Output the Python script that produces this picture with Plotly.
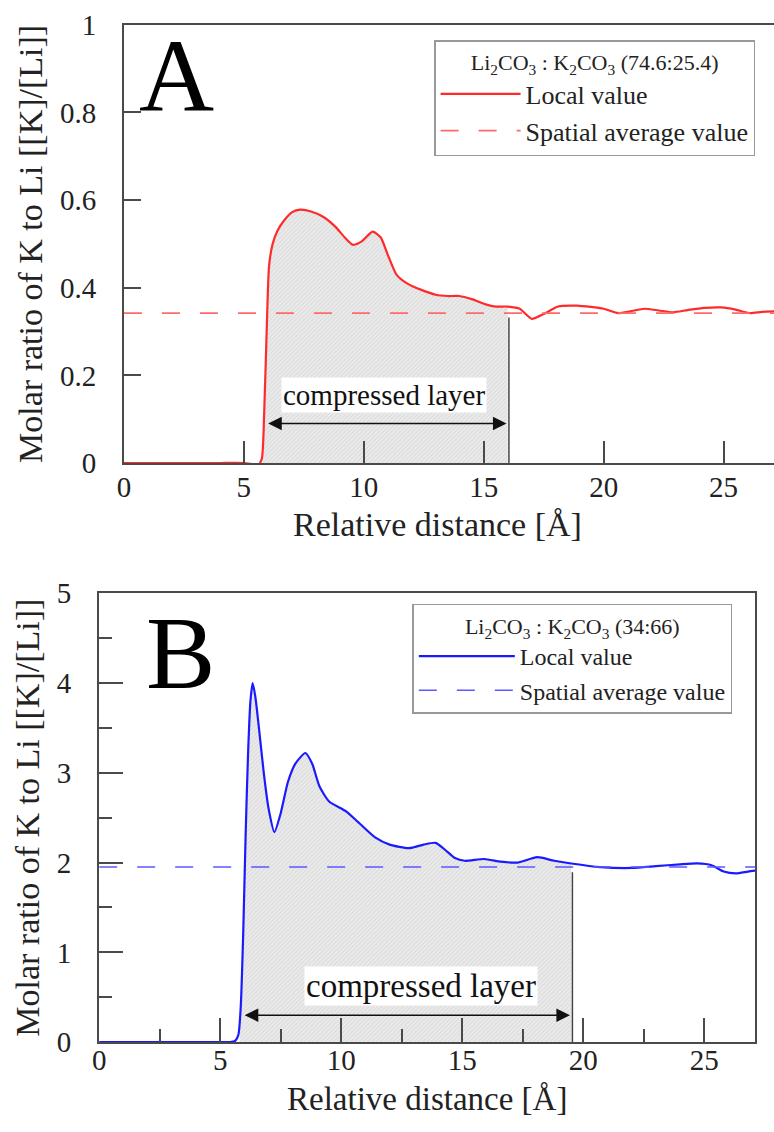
import plotly.graph_objects as go

# ---------------- data ----------------
# Panel A : Li2CO3 : K2CO3 (74.6:25.4)
xa = [0, 1, 2, 3, 4, 5, 5.4, 5.6, 5.75, 5.85, 5.95, 6.05, 6.2, 6.4, 6.7, 7.0, 7.36, 7.8, 8.3, 8.8,
      9.2, 9.55, 9.9, 10.37, 10.7, 11.0, 11.36, 11.8, 12.4, 13.0, 13.5, 13.97, 14.5, 15.08, 15.5,
      16.0, 16.5, 17.0, 17.5, 18.1, 18.9, 20.0, 20.6, 21.1, 21.7, 22.3, 22.9, 23.5, 24.2, 24.9,
      25.5, 26.1, 26.6, 27.1]
ya = [0, 0, 0, 0, 0, 0, -0.003, -0.006, 0.01, 0.12, 0.3, 0.45, 0.5, 0.53, 0.555, 0.572, 0.578, 0.574,
      0.562, 0.54, 0.515, 0.498, 0.505, 0.528, 0.515, 0.475, 0.43, 0.41, 0.395, 0.384, 0.381, 0.381,
      0.374, 0.362, 0.357, 0.357, 0.352, 0.329, 0.34, 0.357, 0.359, 0.352, 0.342, 0.346, 0.352,
      0.348, 0.344, 0.349, 0.354, 0.355, 0.35, 0.342, 0.345, 0.346]
avg_a = 0.342
layer_a = [5.8, 16.05]

# Panel B : Li2CO3 : K2CO3 (34:66)
xb = [0, 1, 2, 3, 4, 5, 5.4, 5.6, 5.75, 5.85, 5.95, 6.05, 6.15, 6.25, 6.34, 6.45, 6.6, 6.8, 7.0,
      7.24, 7.5, 7.8, 8.1, 8.52, 8.8, 9.1, 9.5, 10.2, 10.7, 11.4, 12.0, 12.8, 13.4, 13.9, 14.3,
      14.7, 15.1, 15.9, 16.6, 17.3, 18.1, 18.8, 19.5, 20.7, 22.0, 23.0, 24.0, 24.7, 25.3, 25.8,
      26.3, 26.8, 27.1]
yb = [0, 0, 0, 0, 0, 0, 0, 0.01, 0.08, 0.4, 1.2, 2.3, 3.2, 3.8, 4.0, 3.85, 3.5, 3.0, 2.6,
      2.34, 2.55, 2.9, 3.1, 3.22, 3.1, 2.85, 2.68, 2.57, 2.45, 2.28, 2.2, 2.16, 2.2, 2.22, 2.14,
      2.05, 2.02, 2.04, 2.01, 2.0, 2.06, 2.02, 1.99, 1.95, 1.94, 1.96, 1.98, 1.99, 1.97, 1.9,
      1.88, 1.9, 1.91]
avg_b = 1.95
layer_b = [5.8, 19.55]

titles = ["Li<sub>2</sub>CO<sub>3</sub> : K<sub>2</sub>CO<sub>3</sub> (74.6:25.4)",
          "Li<sub>2</sub>CO<sub>3</sub> : K<sub>2</sub>CO<sub>3</sub> (34:66)"]
series_names = ["Local value", "Spatial average value"]
panel_labels = ["A", "B"]
x_title = "Relative distance [Å]"
y_title = "Molar ratio of K to Li [[K]/[Li]]"

W, H = 774, 1132
FONT = "Liberation Serif"
AX = "#4a4a4a"
TXT = "#222222"

fig = go.Figure()

def add_panel(xs, ys, avg, layer, xr, col, dcol, xax, yax, legend):
    fx = [x for x in xs if layer[0] <= x <= layer[1]]
    fy = [y for x, y in zip(xs, ys) if layer[0] <= x <= layer[1]]
    fx = [layer[0]] + fx + [fx[-1]]
    fy = [0] + fy + [0]
    fig.add_trace(go.Scatter(x=fx, y=fy, mode="lines", line=dict(width=0),
                             fill="toself", fillcolor="#e4e4e4",
                             fillpattern=dict(shape="/", fgcolor="#c8c8c8", bgcolor="#ebebeb",
                                              size=3, solidity=0.35),
                             xaxis=xax, yaxis=yax, showlegend=False, hoverinfo="skip"))
    fig.add_trace(go.Scatter(x=xs, y=ys, mode="lines", name=series_names[0],
                             line=dict(color=col, width=2.2, shape="spline", smoothing=0.6),
                             xaxis=xax, yaxis=yax, legend=legend))
    fig.add_trace(go.Scatter(x=[0, xr], y=[avg, avg], mode="lines", name=series_names[1],
                             line=dict(color=dcol, width=1.6, dash="18px,20px"),
                             xaxis=xax, yaxis=yax, legend=legend))

add_panel(xa, ya, avg_a, layer_a, 27.1, "#ff2a2a", "#ff6a6a", "x", "y", "legend")
add_panel(xb, yb, avg_b, layer_b, 27.1, "#1a1aff", "#5a5aff", "x2", "y2", "legend2")

for (layer, avg, xref, yref, ya_arrow, ya_text, xt, fs) in [
        (layer_a, avg_a, "x", "y", 0.09, 0.155, 10.85, 29),
        (layer_b, avg_b, "x2", "y2", 0.30, 0.63, 13.3, 33)]:
    fig.add_shape(type="line", x0=layer[1], x1=layer[1], y0=0, y1=avg * 0.97,
                  xref=xref, yref=yref, line=dict(color="#444444", width=1.5))
    fig.add_annotation(x=layer[1] - 0.1, y=ya_arrow, ax=layer[0] + 0.15, ay=ya_arrow,
                       xref=xref, yref=yref, axref=xref, ayref=yref, text="",
                       showarrow=True, arrowhead=2, arrowside="end+start", arrowsize=1.7,
                       arrowwidth=1.6, arrowcolor="#111111")
    fig.add_annotation(x=xt, y=ya_text, xref=xref, yref=yref,
                       text="compressed layer", showarrow=False, bgcolor="white",
                       font=dict(family=FONT, size=fs, color="#111111"))

fig.add_annotation(x=171 / W, y=1 - 61 / H, xref="paper", yref="paper", text=panel_labels[0],
                   xanchor="center", yanchor="middle",
                   showarrow=False, font=dict(family=FONT, size=104, color="black"))
fig.add_annotation(x=175 / W, y=1 - 655 / H, xref="paper", yref="paper", text=panel_labels[1],
                   xanchor="center", yanchor="middle",
                   showarrow=False, font=dict(family=FONT, size=104, color="black"))

# x-axis titles
dA = [118 / W, 1.0]
dB = [93 / W, 755 / W]
fig.add_annotation(x=(dA[0] + 0.97) / 2, y=1 - 523 / H, xref="paper", yref="paper",
                   text=x_title, showarrow=False, xanchor="center", yanchor="middle",
                   font=dict(family=FONT, size=34, color=TXT))
fig.add_annotation(x=(dB[0] + dB[1]) / 2, y=1 - 1115 / H, xref="paper", yref="paper",
                   text=x_title, showarrow=False, xanchor="center", yanchor="middle",
                   font=dict(family=FONT, size=33, color=TXT))

def ax(**kw):
    d = dict(showline=True, linecolor=AX, linewidth=2, ticks="inside", tickcolor=AX,
             tickwidth=1.5, showgrid=False, zeroline=False,
             tickfont=dict(family=FONT, size=29, color=TXT))
    d.update(kw)
    return d

TF = dict(family=FONT, size=34, color=TXT)
yA = [1 - 460 / H, 1 - 9 / H]
yB = [1 - 1056 / H, 1 - 594 / H]

fig.update_layout(
    width=W, height=H, margin=dict(l=0, r=0, t=0, b=0),
    plot_bgcolor="white", paper_bgcolor="white",
    font=dict(family=FONT, color=TXT),
    xaxis=ax(domain=dA, range=[0, 27.1], dtick=5, ticklen=22, mirror=True,
             anchor="y", ticklabelstandoff=-3),
    yaxis=ax(domain=yA, range=[0, 1], anchor="x", ticklen=17, ticklabelstandoff=20,
             tickvals=[0, 0.2, 0.4, 0.6, 0.8, 1], ticktext=["0", "0.2", "0.4", "0.6", "0.8", "1"],
             title=dict(text=y_title, standoff=7, font=TF)),
    xaxis2=ax(domain=dB, range=[0, 27.1], dtick=5, ticklen=24, mirror=True,
              minor=dict(ticks="inside", dtick=2.5, ticklen=13, tickcolor=AX, tickwidth=1.5),
              anchor="y2", ticklabelstandoff=-9),
    yaxis2=ax(domain=yB, range=[0, 5], dtick=1, ticklen=24, anchor="x2", mirror=True,
              minor=dict(ticks="inside", dtick=0.5, ticklen=13, tickcolor=AX, tickwidth=1.5),
              ticklabelstandoff=20,
              title=dict(text=y_title, standoff=7, font=TF)),
    legend=dict(x=431 / W, y=1 - 25 / H, xanchor="left", yanchor="top",
                bordercolor="#999999", borderwidth=1.5, bgcolor="white",
                font=dict(family=FONT, size=26, color=TXT), itemwidth=80,
                tracegroupgap=0,
                title=dict(text=titles[0], side="top center",
                           font=dict(family=FONT, size=22, color=TXT))),
    legend2=dict(x=409 / W, y=1 - 605 / H, xanchor="left", yanchor="top",
                 bordercolor="#999999", borderwidth=1.5, bgcolor="white",
                 font=dict(family=FONT, size=24, color=TXT), itemwidth=96,
                 tracegroupgap=0,
                 title=dict(text=titles[1], side="top center",
                            font=dict(family=FONT, size=22, color=TXT))),
)

fig.write_html(
    "out.html",
    config={"displayModeBar": False},
    post_script=("document.documentElement.style.overflow='hidden';"
                 "document.body.style.margin='0';document.body.style.overflow='hidden';"
                 "var g=document.getElementById('{plot_id}');"
                 "g.style.position='fixed';g.style.left='0px';g.style.top='0px';"))
